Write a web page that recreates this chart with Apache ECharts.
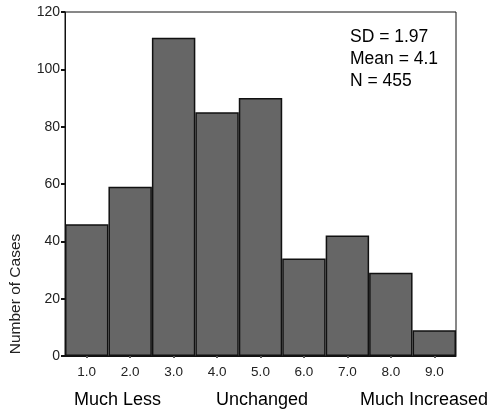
<!DOCTYPE html>
<html>
<head>
<meta charset="utf-8">
<script src="https://cdn.jsdelivr.net/npm/echarts@6/dist/echarts.min.js"></script>
<style>
    html, body { margin: 0; padding: 0; background: #fff; }
    #chart { width: 489px; height: 414px; }
</style>
</head>
<body>
<div id="chart"></div>
<script>
    // values
    var categories = ['1.0', '2.0', '3.0', '4.0', '5.0', '6.0', '7.0', '8.0', '9.0'];
    var cases = [46, 59, 111, 85, 90, 34, 42, 29, 9];
    var statLines = ['SD = 1.97', 'Mean = 4.1', 'N = 455'];
    var scaleLabels = ['Much Less', 'Unchanged', 'Much Increased'];
    var yTitle = 'Number of Cases';

    var font = 'Liberation Sans, Arial, sans-serif';
    var chart = echarts.init(document.getElementById('chart'));
    chart.setOption({
        animation: false,
        grid: {
            left: 65, top: 12, right: 33, bottom: 58,
            show: true, borderColor: '#111', borderWidth: 1
        },
        graphic: [
            {
                type: 'text', left: 350, top: 26,
                style: { text: statLines.join('\n'), font: '17.5px ' + font, fill: '#000', lineHeight: 22 }
            },
            {
                // y axis title sits low, as in the original
                type: 'text', x: 16, y: 294, rotation: Math.PI / 2,
                style: { text: yTitle, font: '15.5px ' + font, fill: '#222', align: 'center', verticalAlign: 'middle' }
            },
            {
                type: 'text', left: 74, top: 391,
                style: { text: scaleLabels[0], font: '18px ' + font, fill: '#000' }
            },
            {
                type: 'text', left: 216, top: 391,
                style: { text: scaleLabels[1], font: '18px ' + font, fill: '#000' }
            },
            {
                type: 'text', left: 360, top: 391,
                style: { text: scaleLabels[2], font: '18px ' + font, fill: '#000' }
            }
        ],
        xAxis: {
            type: 'category',
            data: categories,
            axisLine: { lineStyle: { color: '#111', width: 1 } },
            axisTick: { show: true, alignWithLabel: true, length: 2, lineStyle: { color: '#555', width: 2 } },
            axisLabel: { color: '#222', fontSize: 13.5, fontFamily: font, margin: 9 }
        },
        yAxis: {
            type: 'value',
            min: 0, max: 120, interval: 20,
            axisLine: { show: true, lineStyle: { color: '#111', width: 1 } },
            axisTick: { show: true, length: 4, lineStyle: { color: '#111', width: 2 } },
            axisLabel: { color: '#222', fontSize: 14, fontFamily: font, margin: 5 },
            splitLine: { show: false }
        },
        series: [{
            type: 'bar',
            data: cases,
            barCategoryGap: 0,
            itemStyle: { color: '#666666', borderColor: '#111', borderWidth: 1.5 }
        }]
    });
</script>
</body>
</html>
